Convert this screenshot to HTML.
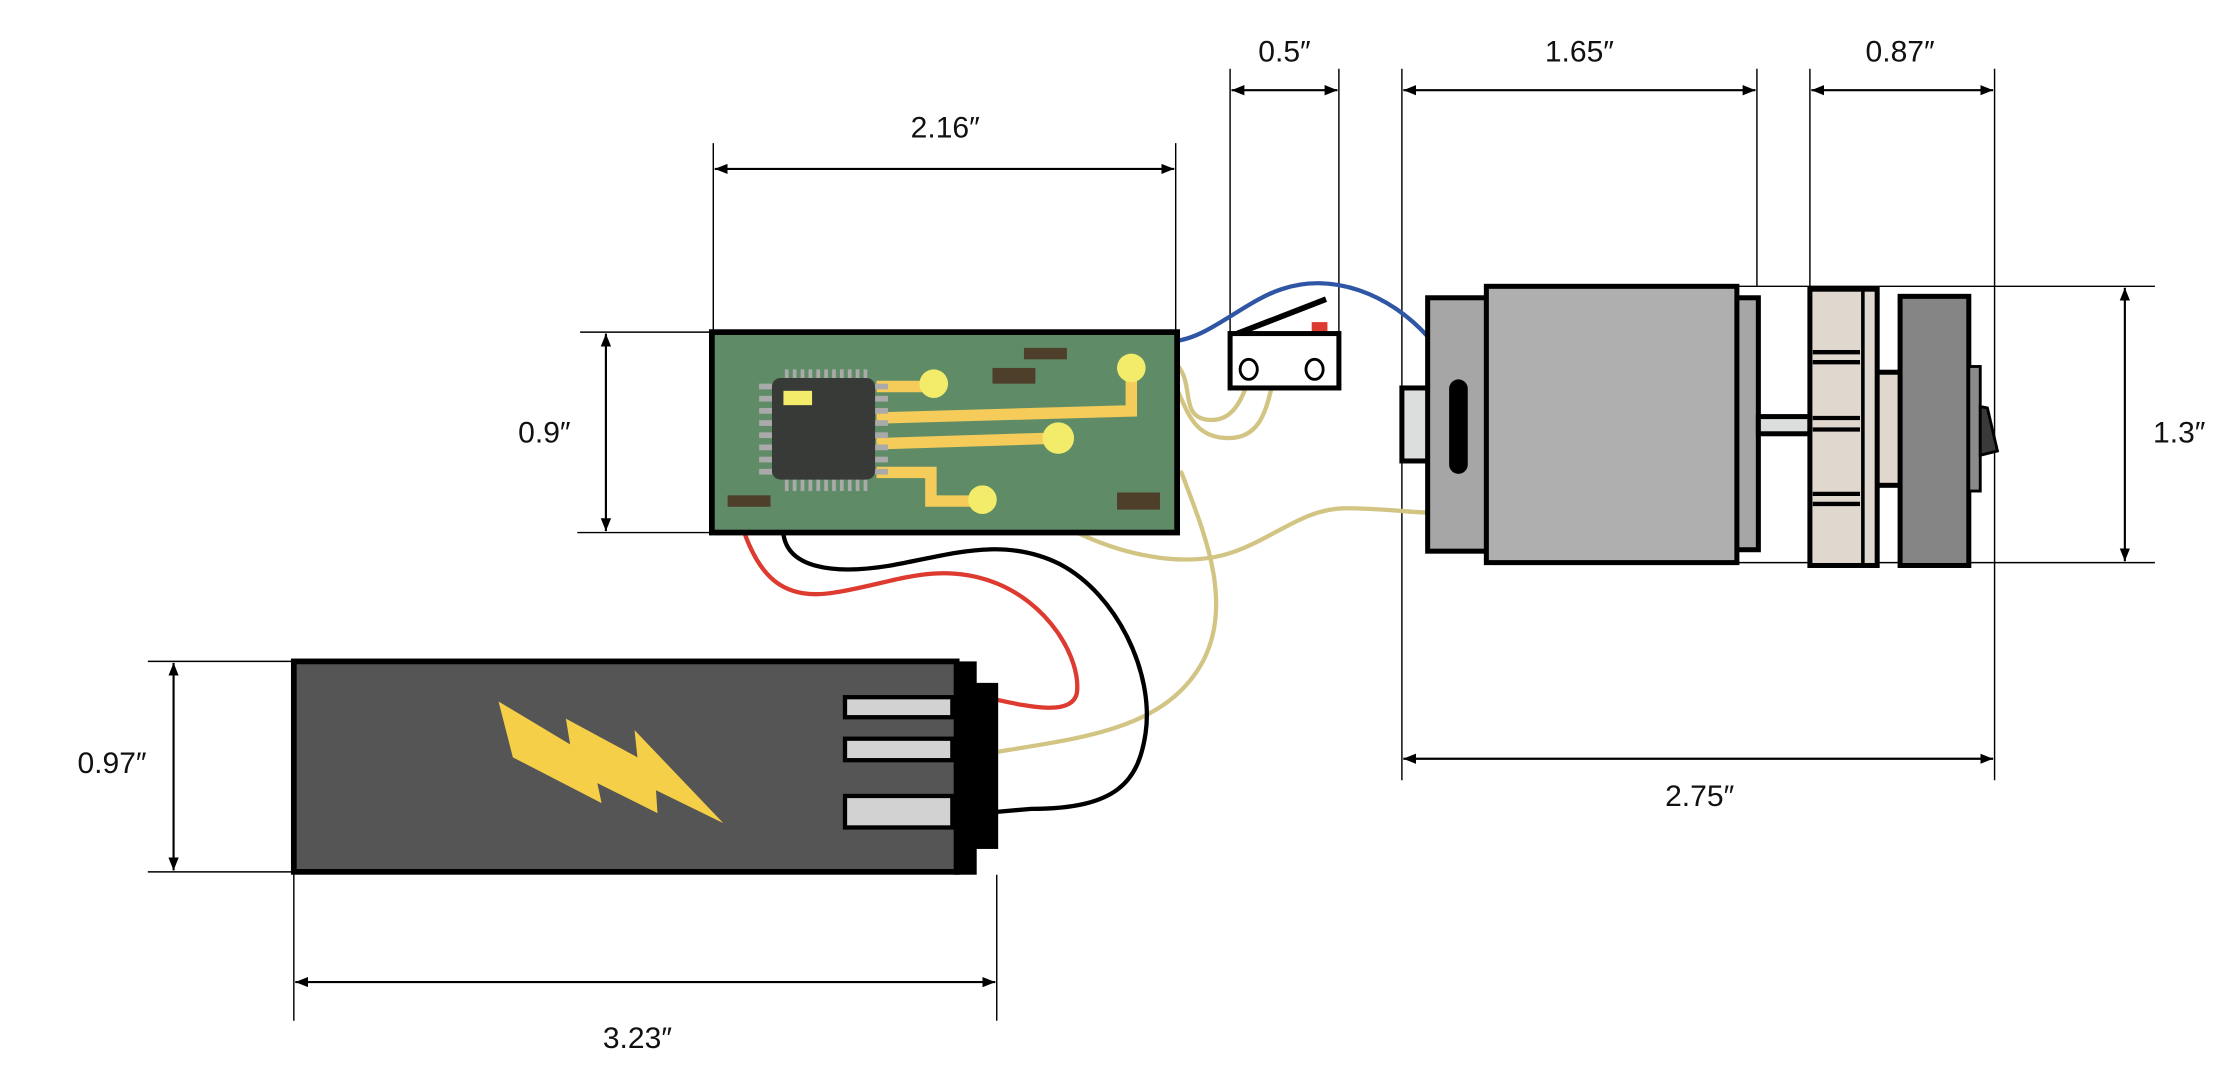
<!DOCTYPE html>
<html><head><meta charset="utf-8"><style>html,body{margin:0;padding:0;background:#fff}svg{display:block}text{font-family:"Liberation Sans Narrow","Liberation Sans",sans-serif;font-size:21px;fill:#111;text-anchor:middle}</style></head><body>
<svg width="2234" height="1078" viewBox="0 0 1560 753" xmlns="http://www.w3.org/2000/svg">
<defs>
<marker id="a" viewBox="0 0 10 10" refX="10" refY="5" markerWidth="9" markerHeight="9" orient="auto-start-reverse" markerUnits="userSpaceOnUse"><path d="M0,1 L10,5 L0,9 z" fill="#000"/></marker>
</defs>
<g stroke="#000" stroke-width="1" fill="none">
<!-- 2.16 -->
<line x1="498" y1="100" x2="498" y2="232"/><line x1="821" y1="100" x2="821" y2="232"/>
<line x1="499" y1="118" x2="820" y2="118" stroke-width="1.5" marker-start="url(#a)" marker-end="url(#a)"/>
<!-- 0.9 -->
<line x1="405" y1="232" x2="497" y2="232"/><line x1="403" y1="372" x2="497" y2="372"/>
<line x1="423" y1="233" x2="423" y2="371" stroke-width="1.5" marker-start="url(#a)" marker-end="url(#a)"/>
<!-- 0.5 -->
<line x1="859" y1="48" x2="859" y2="233"/><line x1="935" y1="48" x2="935" y2="233"/>
<line x1="860" y1="63" x2="934" y2="63" stroke-width="1.5" marker-start="url(#a)" marker-end="url(#a)"/>
<!-- 1.65 -->
<line x1="979" y1="48" x2="979" y2="545"/><line x1="1227" y1="48" x2="1227" y2="200"/>
<line x1="980" y1="63" x2="1226" y2="63" stroke-width="1.5" marker-start="url(#a)" marker-end="url(#a)"/>
<!-- 0.87 -->
<line x1="1264" y1="48" x2="1264" y2="202"/><line x1="1393" y1="48" x2="1393" y2="545"/>
<line x1="1265" y1="63" x2="1392" y2="63" stroke-width="1.5" marker-start="url(#a)" marker-end="url(#a)"/>
<!-- 1.3 -->
<line x1="1213" y1="200" x2="1505" y2="200"/><line x1="1213" y1="393" x2="1505" y2="393"/>
<line x1="1484" y1="201" x2="1484" y2="392" stroke-width="1.5" marker-start="url(#a)" marker-end="url(#a)"/>
<!-- 2.75 -->
<line x1="980" y1="530" x2="1392" y2="530" stroke-width="1.5" marker-start="url(#a)" marker-end="url(#a)"/>
<!-- 0.97 -->
<line x1="103" y1="462" x2="205" y2="462"/><line x1="103" y1="609" x2="205" y2="609"/>
<line x1="121" y1="463" x2="121" y2="608" stroke-width="1.5" marker-start="url(#a)" marker-end="url(#a)"/>
<!-- 3.23 -->
<line x1="205" y1="609" x2="205" y2="713"/><line x1="696" y1="611" x2="696" y2="713"/>
<line x1="206" y1="686" x2="695" y2="686" stroke-width="1.5" marker-start="url(#a)" marker-end="url(#a)"/>
</g>
<text x="660" y="96">2.16″</text>
<text x="380" y="309">0.9″</text>
<text x="897" y="43">0.5″</text>
<text x="1103" y="43">1.65″</text>
<text x="1327" y="43">0.87″</text>
<text x="1522" y="309">1.3″</text>
<text x="1187" y="563">2.75″</text>
<text x="78" y="540">0.97″</text>
<text x="445" y="732">3.23″</text>

<!-- wires -->
<g fill="none" stroke-width="3" stroke-linecap="round">
<path d="M822,238 C845,235 870,210 895,202 C930,190 970,205 997,235" stroke="#2f56a4"/>
<path d="M822,255 C834,268 824,290 842,293 C860,296 866,280 870,271" stroke="#d2c584"/>
<path d="M822,272 C830,290 835,306 858,306 C880,306 884,286 888,271" stroke="#d2c584"/>
<path d="M752,372 C790,390 830,396 860,386 C890,376 910,355 940,355 C965,355 985,358 997,358" stroke="#d2c584"/>
<path d="M825,330 C840,370 862,420 840,462 C815,508 760,515 697,525" stroke="#d2c584"/>
<path d="M520,373 C530,400 545,420 582,414 C622,408 652,392 692,406 C732,420 755,460 752,484 C749,500 720,494 697,489" stroke="#dd3a30"/>
<path d="M547,373 C550,396 580,402 622,395 C662,388 700,374 740,394 C780,415 806,470 800,512 C795,546 780,565 720,565 L697,567" stroke="#000"/>
</g>

<!-- PCB -->
<rect x="497" y="232" width="325" height="140" fill="#5f8c67" stroke="#000" stroke-width="4"/>
<g fill="#4e3f2a">
<rect x="715" y="243" width="30" height="8"/><rect x="693" y="257" width="30" height="11"/>
<rect x="508" y="346" width="30" height="8"/><rect x="780" y="344" width="30" height="12"/>
</g>
<g fill="none" stroke="#f5cc5a" stroke-width="8">
<path d="M612,270 L652,270"/>
<path d="M612,292 L790,287 L790,257"/>
<path d="M612,310 L739,306"/>
<path d="M612,330 L650,330 L650,350 L686,350"/>
</g>
<g fill="#f2ec6a">
<ellipse cx="652" cy="268" rx="10" ry="10"/><ellipse cx="790" cy="257" rx="10" ry="10"/>
<ellipse cx="739" cy="306" rx="11" ry="11"/><ellipse cx="686" cy="349" rx="10" ry="10"/>
</g>
<g fill="#aaa">
<rect x="548" y="258" width="2.6" height="9"/><rect x="553.5" y="258" width="2.6" height="9"/><rect x="559" y="258" width="2.6" height="9"/><rect x="564.5" y="258" width="2.6" height="9"/><rect x="570" y="258" width="2.6" height="9"/><rect x="575.5" y="258" width="2.6" height="9"/><rect x="581" y="258" width="2.6" height="9"/><rect x="586.5" y="258" width="2.6" height="9"/><rect x="592" y="258" width="2.6" height="9"/><rect x="597.5" y="258" width="2.6" height="9"/><rect x="603" y="258" width="2.6" height="9"/>
<rect x="548" y="334" width="2.6" height="9"/><rect x="553.5" y="334" width="2.6" height="9"/><rect x="559" y="334" width="2.6" height="9"/><rect x="564.5" y="334" width="2.6" height="9"/><rect x="570" y="334" width="2.6" height="9"/><rect x="575.5" y="334" width="2.6" height="9"/><rect x="581" y="334" width="2.6" height="9"/><rect x="586.5" y="334" width="2.6" height="9"/><rect x="592" y="334" width="2.6" height="9"/><rect x="597.5" y="334" width="2.6" height="9"/><rect x="603" y="334" width="2.6" height="9"/>
</g>
<g fill="#aaa">
<rect x="530" y="268" width="9" height="4"/><rect x="530" y="276.5" width="9" height="4"/><rect x="530" y="285" width="9" height="4"/><rect x="530" y="293.5" width="9" height="4"/><rect x="530" y="302" width="9" height="4"/><rect x="530" y="310.5" width="9" height="4"/><rect x="530" y="319" width="9" height="4"/><rect x="530" y="327.5" width="9" height="4"/>
<rect x="611" y="268" width="9" height="4"/><rect x="611" y="276.5" width="9" height="4"/><rect x="611" y="285" width="9" height="4"/><rect x="611" y="293.5" width="9" height="4"/><rect x="611" y="302" width="9" height="4"/><rect x="611" y="310.5" width="9" height="4"/><rect x="611" y="319" width="9" height="4"/><rect x="611" y="327.5" width="9" height="4"/>
</g>
<rect x="539" y="264" width="72" height="71" rx="6" fill="#383a38"/>
<rect x="547" y="273" width="20" height="10" fill="#f2ec6a"/>

<!-- switch -->
<line x1="864" y1="233" x2="926" y2="209" stroke="#000" stroke-width="4"/>
<rect x="916" y="225" width="11" height="7" fill="#dd3a30"/>
<rect x="859" y="233" width="76" height="38" fill="#fff" stroke="#000" stroke-width="3.5"/>
<ellipse cx="872" cy="258" rx="6" ry="7" fill="none" stroke="#000" stroke-width="2"/>
<ellipse cx="918" cy="258" rx="6" ry="7" fill="none" stroke="#000" stroke-width="2"/>

<!-- motor -->
<g stroke="#000" stroke-width="3.5">
<rect x="979" y="271" width="19" height="51" fill="#dcdede"/>
<rect x="997" y="208" width="42" height="177" fill="#a6a6a6"/>
<rect x="1212" y="208" width="16" height="176" fill="#a6a6a6"/>
<rect x="1038" y="200" width="175" height="193" fill="#afafaf"/>
<rect x="1228" y="291" width="36" height="12" fill="#dcdede"/>
<rect x="1308" y="260" width="20" height="79" fill="#e0d8cf"/>
<rect x="1264" y="202" width="47" height="193" fill="#e0d8cf"/>
<line x1="1301" y1="202" x2="1301" y2="395" stroke-width="2.5"/>
<rect x="1327" y="207" width="48" height="188" fill="#858585"/>
<rect x="1375" y="256" width="8" height="87" fill="#8a8a8a" stroke-width="2"/>
</g>
<g stroke="#000" stroke-width="3">
<line x1="1266" y1="246" x2="1299" y2="246"/><line x1="1266" y1="253" x2="1299" y2="253"/>
<line x1="1266" y1="292" x2="1299" y2="292"/><line x1="1266" y1="300" x2="1299" y2="300"/>
<line x1="1266" y1="345" x2="1299" y2="345"/><line x1="1266" y1="352" x2="1299" y2="352"/>
</g>
<rect x="1012" y="265" width="13" height="66" rx="6.5" fill="#000"/>
<polygon points="1383,284 1388,285 1395,315 1383,318" fill="#3a3a3a" stroke="#000" stroke-width="2"/>

<!-- battery -->
<rect x="205" y="462" width="463" height="147" fill="#555" stroke="#000" stroke-width="4"/>
<rect x="666" y="462" width="16" height="149" fill="#000"/>
<rect x="681" y="477" width="16" height="116" fill="#000"/>
<g fill="#d2d2d2" stroke="#000" stroke-width="3">
<rect x="590" y="487" width="75" height="14"/>
<rect x="590" y="516" width="75" height="15"/>
<rect x="590" y="556" width="75" height="22"/>
</g>
<polygon points="348,490 398,520 395,502 445,529 443,510 505,575 458,552 459,568 417,547 420,561 358,529" fill="#f6cf48"/>
</svg>
</body></html>
